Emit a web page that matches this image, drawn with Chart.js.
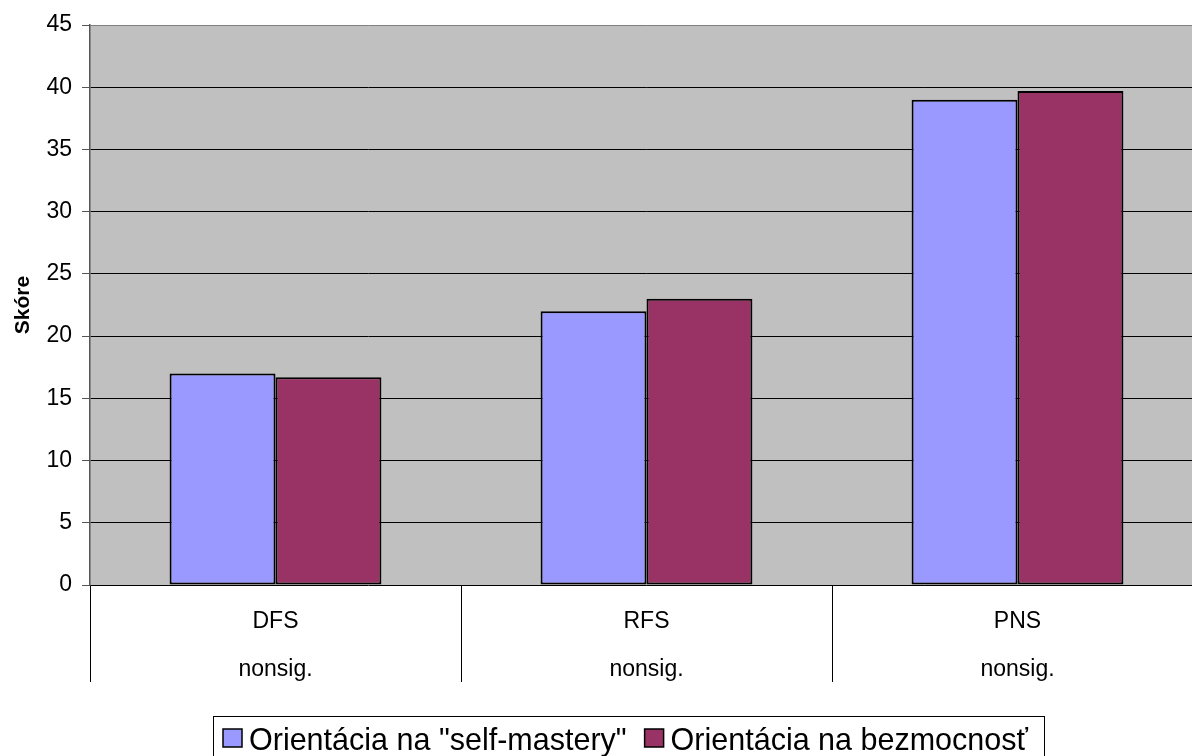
<!DOCTYPE html>
<html>
<head>
<meta charset="utf-8">
<script src="https://cdn.jsdelivr.net/npm/chart.js@4.4.0/dist/chart.umd.min.js"></script>
<style>
  html, body { margin: 0; padding: 0; background: #fff; overflow: hidden; }
  #wrap { width: 1210px; height: 756px; }
</style>
</head>
<body>
<div id="wrap"><canvas id="mychart"></canvas></div>
<script>
// -------- data --------
const categories = ['DFS', 'RFS', 'PNS'];
const sigLabels = ['nonsig.', 'nonsig.', 'nonsig.'];
const selfMastery = [17, 22, 39];
const helplessness = [16.7, 23, 39.7];
const seriesNames = ['Orientácia na "self-mastery"', 'Orientácia na bezmocnosť'];
const seriesColors = ['#9999FF', '#993366'];
const yTicks = [0, 5, 10, 15, 20, 25, 30, 35, 40, 45];

const FONT = 'Liberation Sans, Arial, sans-serif';

// gray plot background
const plotBg = {
  id: 'plotBg',
  beforeDraw(chart) {
    const {ctx, chartArea: a} = chart;
    ctx.save();
    ctx.fillStyle = '#C0C0C0';
    ctx.fillRect(a.left, a.top, a.right - a.left, a.bottom - a.top);
    ctx.restore();
  }
};

// excel style legend box under the chart (cut by the bottom edge)
const boxLegend = {
  id: 'boxLegend',
  afterDraw(chart) {
    const ctx = chart.ctx;
    ctx.save();
    ctx.font = '30.5px ' + FONT;
    ctx.textBaseline = 'alphabetic';
    const left = 213, top = 716, right = 1044;
    ctx.strokeStyle = '#000';
    ctx.lineWidth = 1;
    ctx.strokeRect(left + 0.5, top + 0.5, right - left, 80);
    let x = left + 10;
    seriesNames.forEach((n, i) => {
      ctx.fillStyle = seriesColors[i];
      ctx.fillRect(x, 729, 19, 18);
      ctx.strokeStyle = '#000';
      ctx.lineWidth = 1.5;
      ctx.strokeRect(x, 729, 19, 18);
      ctx.fillStyle = '#000';
      ctx.fillText(n, x + 26, 750);
      x += 26 + ctx.measureText(n).width + 18;
    });
    ctx.restore();
  }
};

const data = {
  labels: categories.map((c, i) => [c, sigLabels[i]]),
  datasets: [
    {
      label: seriesNames[0],
      data: selfMastery,
      backgroundColor: seriesColors[0],
      borderColor: '#000',
      borderWidth: 2,
      borderSkipped: false
    },
    {
      label: seriesNames[1],
      data: helplessness,
      backgroundColor: seriesColors[1],
      borderColor: '#000',
      borderWidth: 2,
      borderSkipped: false
    }
  ]
};

const config = {
  type: 'bar',
  data: data,
  options: {
    responsive: true,
    maintainAspectRatio: false,
    animation: false,
    categoryPercentage: 0.571,
    barPercentage: 1,
    layout: {
      padding: { top: 25, right: 7, bottom: 64, left: 0 }
    },
    plugins: {
      legend: { display: false },
      tooltip: { enabled: false }
    },
    scales: {
      x: {
        offset: true,
        afterFit(scale) { scale.height = 107; },
        grid: {
          offset: true,
          drawOnChartArea: false,
          drawTicks: true,
          tickLength: 97,
          color: '#000',
          lineWidth: 1
        },
        border: { display: false },
        ticks: {
          color: '#000',
          padding: -84,
          font: { family: FONT, size: 23, lineHeight: 48 / 23 },
          maxRotation: 0,
          autoSkip: false
        }
      },
      y: {
        min: 0,
        max: 45,
        afterFit(scale) { scale.width = 90; },
        afterBuildTicks(scale) { scale.ticks = yTicks.map(v => ({value: v})); },
        grid: {
          color: ctx => ctx.tick && ctx.tick.value === 45 ? '#808080' : '#000',
          tickColor: '#555',
          tickLength: 8,
          lineWidth: 1
        },
        border: { color: '#555', width: 1.5 },
        ticks: {
          color: '#000',
          padding: 10,
          font: { family: FONT, size: 23 }
        },
        title: {
          display: true,
          text: 'Skóre',
          color: '#000',
          padding: { top: 11, bottom: 0 },
          font: { family: FONT, size: 21, weight: 'bold' }
        }
      }
    }
  },
  plugins: [plotBg, boxLegend]
};

const mychart = document.getElementById('mychart');
var chart = new Chart(mychart, config);
</script>
</body>
</html>
